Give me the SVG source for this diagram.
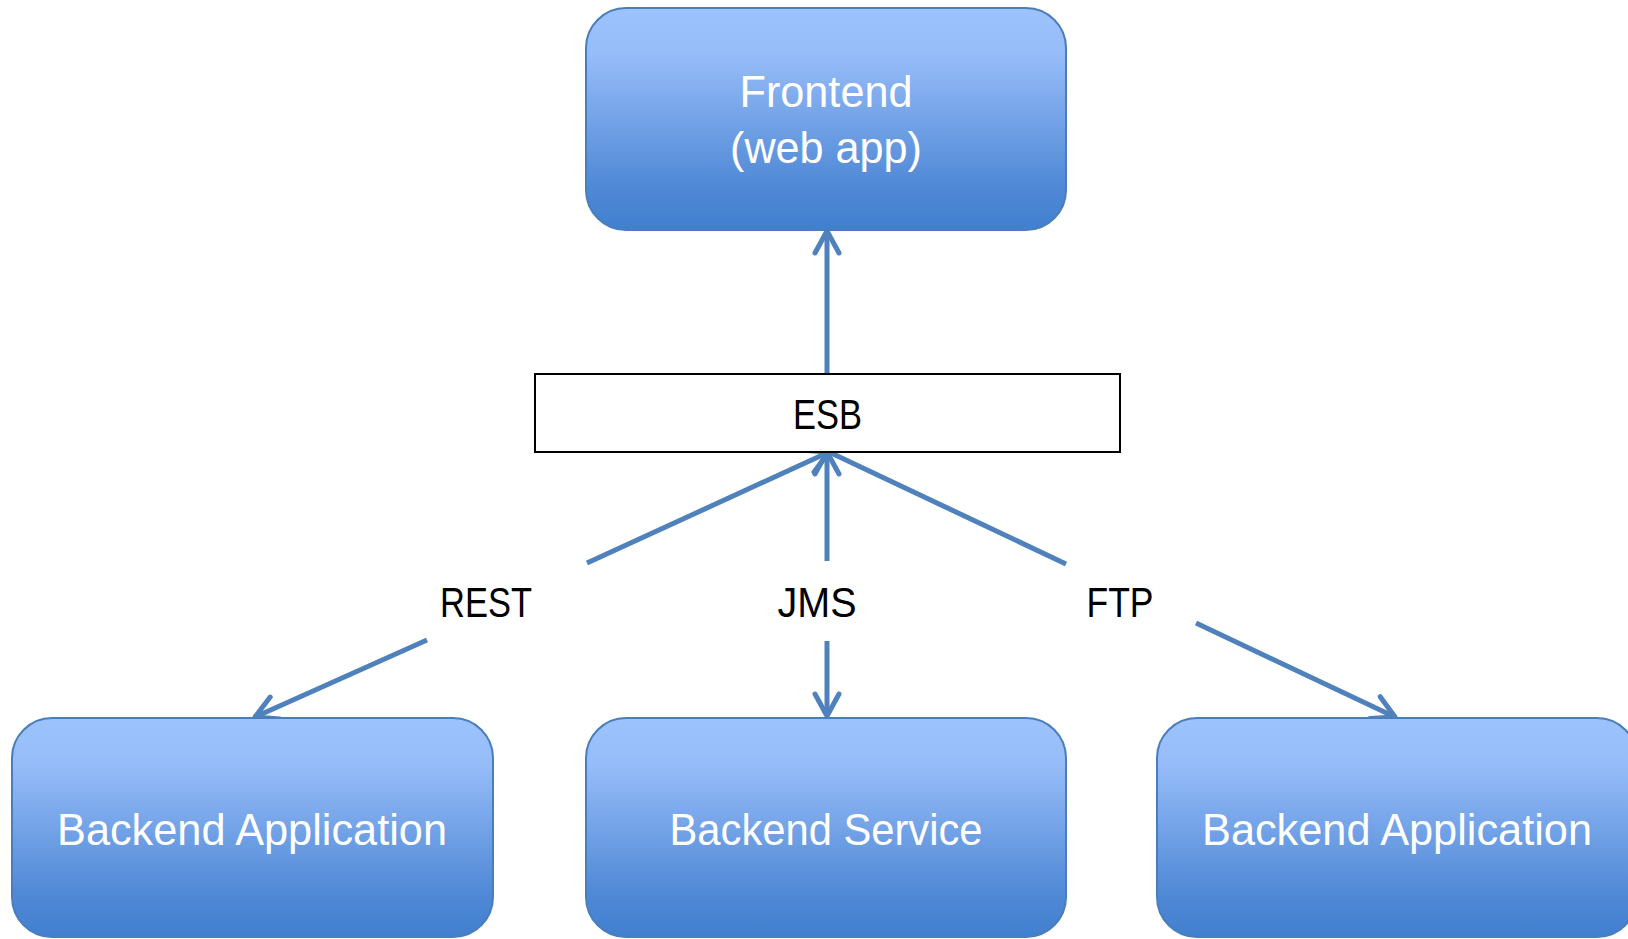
<svg xmlns="http://www.w3.org/2000/svg" width="1628" height="939" viewBox="0 0 1628 939">
  <style>
    .box { fill: url(#g); stroke: #4A7EBB; stroke-width: 2; }
    .wt { font-family: "Liberation Sans", Arial, sans-serif; font-size: 44px; fill: #FFFFFF; text-anchor: middle; }
    .bt { font-family: "Liberation Sans", Arial, sans-serif; font-size: 43px; fill: #000000; text-anchor: middle; }
    .c { stroke: #4F81BD; stroke-width: 5; fill: none; marker-end: url(#arr); }
    .cn { stroke: #4F81BD; stroke-width: 5; fill: none; }
  </style>
  <defs>
    <linearGradient id="g" x1="0" y1="0" x2="0" y2="1">
      <stop offset="0" stop-color="#9DC3FF"/>
      <stop offset="0.2" stop-color="#97BDF9"/>
      <stop offset="0.8" stop-color="#5089D6"/>
      <stop offset="1" stop-color="#4180CF"/>
    </linearGradient>
    <marker id="arr" markerUnits="userSpaceOnUse" markerWidth="40" markerHeight="40" viewBox="-30 -20 40 40" refX="0" refY="0" orient="auto">
      <path d="M-22,-12 L0,0 L-22,12" fill="none" stroke="#4F81BD" stroke-width="5" stroke-linecap="round" stroke-linejoin="round"/>
    </marker>
  </defs>
  <rect width="1628" height="939" fill="#FFFFFF"/>

  <g id="connectors">
    <line class="c" x1="827" y1="374" x2="827" y2="231"/>
    <line class="c" x1="587" y1="563" x2="829" y2="452"/>
    <line class="c" x1="427" y1="640" x2="255" y2="717"/>
    <line class="c" x1="827" y1="561" x2="827" y2="452"/>
    <line class="c" x1="827" y1="641" x2="827" y2="716"/>
    <line class="cn" x1="1066" y1="564" x2="829" y2="452"/>
    <line class="c" x1="1196" y1="623" x2="1395" y2="717"/>
  </g>

  <g id="frontend">
    <rect class="box" x="586" y="8" width="480" height="222" rx="40" ry="40"/>
    <text class="wt" x="826" y="107" textLength="173" lengthAdjust="spacingAndGlyphs">Frontend</text>
    <text class="wt" x="826" y="163" textLength="192" lengthAdjust="spacingAndGlyphs">(web app)</text>
  </g>

  <g id="esb">
    <rect x="535" y="374" width="585" height="78" fill="#FFFFFF" stroke="#000000" stroke-width="2"/>
    <text class="bt" x="827.5" y="429" textLength="69" lengthAdjust="spacingAndGlyphs">ESB</text>
  </g>

  <g id="label-rest">
    <text class="bt" x="486" y="617" textLength="92" lengthAdjust="spacingAndGlyphs">REST</text>
  </g>
  <g id="label-jms">
    <text class="bt" x="817" y="617" textLength="79" lengthAdjust="spacingAndGlyphs">JMS</text>
  </g>
  <g id="label-ftp">
    <text class="bt" x="1120" y="617" textLength="67" lengthAdjust="spacingAndGlyphs">FTP</text>
  </g>

  <g id="backend-app-left">
    <rect class="box" x="12" y="718" width="481" height="219" rx="40" ry="40"/>
    <text class="wt" x="252" y="845" textLength="390" lengthAdjust="spacingAndGlyphs">Backend Application</text>
  </g>

  <g id="backend-service">
    <rect class="box" x="586" y="718" width="480" height="219" rx="40" ry="40"/>
    <text class="wt" x="826" y="845" textLength="313" lengthAdjust="spacingAndGlyphs">Backend Service</text>
  </g>

  <g id="backend-app-right">
    <rect class="box" x="1157" y="718" width="480" height="219" rx="40" ry="40"/>
    <text class="wt" x="1397" y="845" textLength="390" lengthAdjust="spacingAndGlyphs">Backend Application</text>
  </g>
</svg>
